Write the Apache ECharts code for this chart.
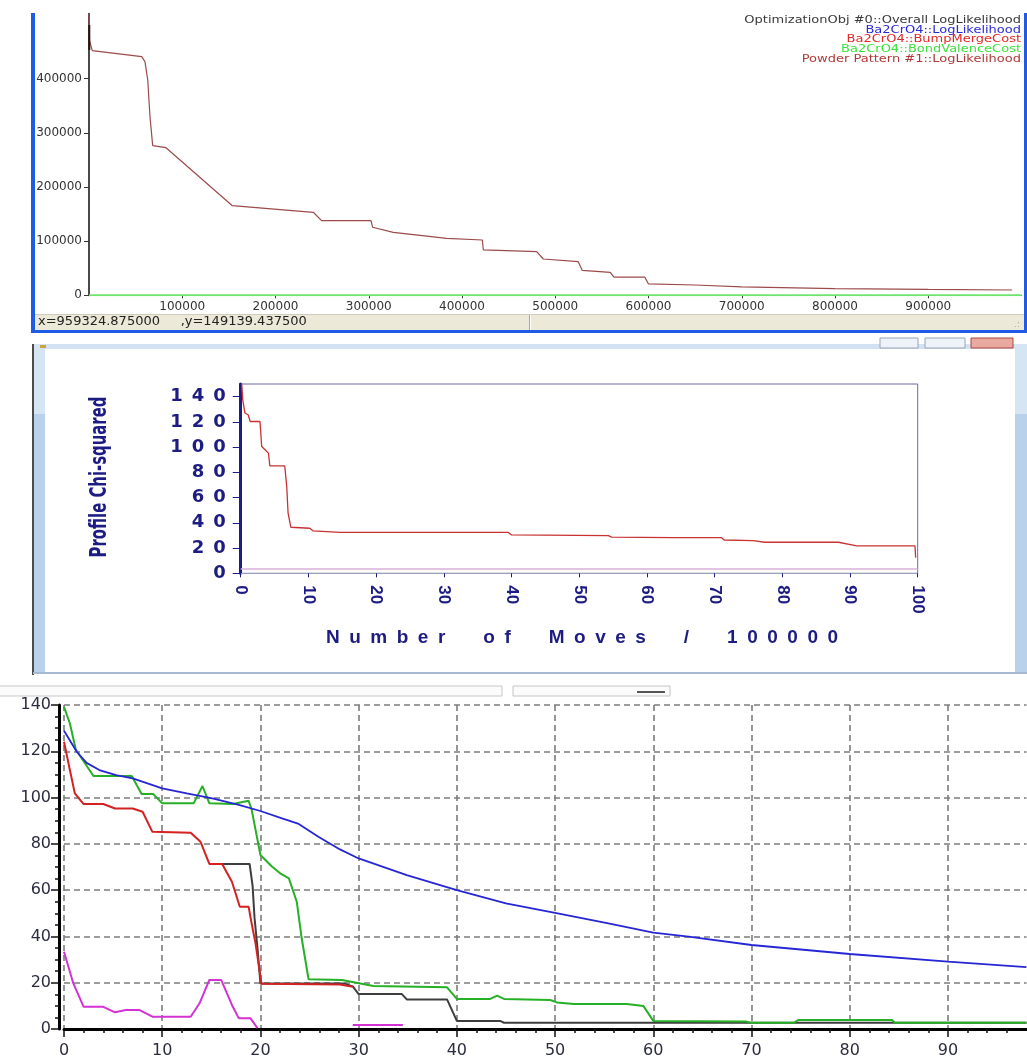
<!DOCTYPE html>
<html>
<head>
<meta charset="utf-8">
<title>Ba2CrO4 optimisation runs</title>
<script src="https://cdn.jsdelivr.net/npm/echarts@6/dist/echarts.min.js"></script>
<style>
  html, body { margin: 0; padding: 0; background: #fff; }
  #chart { width: 1027px; height: 1059px; }
</style>
</head>
<body>
<div id="chart"></div>
<script>
// ---- panel 1 : overall log likelihood vs moves ----
const topXTicks = [100000, 200000, 300000, 400000, 500000, 600000, 700000, 800000, 900000];
const topYTicks = [0, 100000, 200000, 300000, 400000];
const legendNames = ['OptimizationObj #0::Overall LogLikelihood', 'Ba2CrO4::LogLikelihood',
  'Ba2CrO4::BumpMergeCost', 'Ba2CrO4::BondValenceCost', 'Powder Pattern #1::LogLikelihood'];
const legendColors = ['#3a3a3a', '#2a2ad8', '#e02a2a', '#3ee03e', '#b03a3a'];
const powderPattern = [[0, 519000], [600, 470000], [3500, 451700], [56500, 440600], [60000, 431400],
  [63000, 397600], [65400, 329800], [68300, 276300], [82600, 272600], [153700, 165500],
  [240500, 153300], [249500, 137800], [302400, 137800], [304200, 125600], [326300, 116300],
  [383600, 105200], [421800, 102100], [422900, 83700], [480100, 80500], [487200, 67000],
  [524700, 62100], [529000, 46000], [559000, 42500], [563000, 33600], [596000, 33600],
  [600000, 21000], [650000, 19000], [700000, 15500], [800000, 12500], [900000, 10800], [990000, 9800]];
const overallStart = [[300, 499000], [300, 453000]];
const bondValenceTop = [[0, 0], [1000000, 0]];

// ---- panel 2 : profile chi-squared ----
const midYTicks = [0, 20, 40, 60, 80, 100, 120, 140];
const chiSquared = [[0.15, 150], [0.3, 137.5], [0.63, 127], [1.1, 125.6], [1.4, 120.3], [2.85, 120.3],
  [3.1, 100.5], [3.6, 97.9], [4.1, 95.2], [4.3, 85.2], [6.5, 85.2], [6.8, 68.7], [7.0, 47.6],
  [7.4, 36.5], [10.2, 35.7], [10.7, 33.6], [14.7, 32.5], [39.5, 32.5], [40.0, 30.4], [54.3, 29.8],
  [54.8, 28.6], [63.9, 28.3], [71.0, 28.3], [71.4, 26.4], [75.7, 25.9], [77.4, 24.6], [88.3, 24.6],
  [88.5, 23.3], [91.0, 21.7], [99.6, 21.7], [99.7, 12.4]];
const chiBaseline = [[0, 3.4], [100, 3.4]];

// ---- panel 3 : cost terms ----
const botXTicks = [0, 10, 20, 30, 40, 50, 60, 70, 80, 90];
const blueCurve = [[0, 128.9], [1.3, 119.8], [2.3, 115], [3.6, 111.9], [5.3, 109.7], [7.0, 108.3],
  [10, 104], [12.5, 101.8], [15.1, 99.7], [17.8, 96.8], [20, 94.2], [22.2, 91], [23.9, 88.6],
  [25.9, 83.1], [28.1, 77.6], [30, 73.7], [34.9, 66.5], [40, 60], [45, 54.3], [50, 50.2],
  [55.3, 45.7], [60, 41.6], [63.6, 39.9], [70, 36.3], [80, 32.4], [90, 29.1], [98, 26.7]];
const greenCurve = [[0, 139.2], [0.6, 132], [1.2, 120.8], [3.0, 109.3], [6.9, 109.3], [7.9, 101.5],
  [9.1, 101.5], [10, 97.5], [13.2, 97.5], [14.1, 105], [14.8, 97.5], [17.2, 97.2], [18.8, 98.6],
  [19.1, 94.9], [20, 75.2], [21.2, 70.1], [22.1, 67], [22.9, 65.1], [23.7, 55], [24.2, 39.2],
  [24.9, 21.5], [28.3, 21.2], [31.5, 18.6], [39, 18], [40, 13], [43.4, 13], [44.1, 14.4],
  [44.8, 13], [49.5, 12.5], [50.2, 11.5], [51.9, 10.8], [57.3, 10.8], [59, 9.9], [60, 3.5],
  [69.5, 3.2], [69.9, 2.7], [74.3, 2.7], [74.8, 3.9], [84.3, 3.9], [84.6, 2.7], [98, 2.7]];
const redCurve = [[0, 124.1], [0.6, 111.9], [1.1, 101.8], [2.0, 97.2], [4.0, 97.2], [5.2, 95.3],
  [7.0, 95.3], [8.0, 93.9], [9.0, 85.2], [12.9, 84.8], [13.9, 80.9], [14.8, 71.3], [16.1, 71.3],
  [17.1, 63.6], [17.9, 52.8], [18.8, 52.8], [19.1, 45.7], [19.5, 37], [20, 22.6], [20.1, 19.5],
  [28.1, 19.2], [29.4, 18.3]];
const blackCurve = [[14.8, 71.3], [18.9, 71.3], [19.2, 62], [19.4, 48], [19.7, 35], [20, 19.7],
  [28.5, 19.7], [29.4, 18.4], [30, 15.1], [34.4, 15.1], [34.9, 12.8], [39, 12.8], [40, 3.5],
  [44.4, 3.5], [44.8, 2.7], [98, 2.7]];
const magentaCurve = [[0, 33.4], [0.95, 19.7], [2.0, 9.6], [4.0, 9.6], [5.2, 7.2], [6.3, 8.2],
  [7.7, 8.2], [9.0, 5.3], [12.9, 5.3], [13.8, 11.1], [14.8, 21.2], [16.0, 21.2], [17.1, 10.4],
  [17.8, 4.6], [19.0, 4.6], [19.7, 0.3], [25, '-'], [29.4, 1.7], [34.5, 1.7]];

function spaced(s, gap) { return String(s).split('').join(gap); }

const chart = echarts.init(document.getElementById('chart'));

const navy = '#1c1c82';
const grey = '#7c7c7c';
const smallFont = '"DejaVu Sans", Verdana, sans-serif';

const chrome = [
  // panel 1 window frame + status bar
  { type: 'rect', shape: { x: 31, y: 13, width: 4, height: 320 }, style: { fill: '#1f5ce6' } },
  { type: 'rect', shape: { x: 1024, y: 13, width: 3, height: 320 }, style: { fill: '#1f5ce6' } },
  { type: 'rect', shape: { x: 31, y: 330, width: 996, height: 3 }, style: { fill: '#1f5ce6' } },
  { type: 'rect', shape: { x: 35, y: 314, width: 989, height: 16 }, style: { fill: '#ece9d8' } },
  { type: 'line', shape: { x1: 35, y1: 314.5, x2: 1024, y2: 314.5 }, style: { stroke: '#cfcbbd' } },
  { type: 'line', shape: { x1: 529.5, y1: 315, x2: 529.5, y2: 330 }, style: { stroke: '#aca899' } },
  { type: 'line', shape: { x1: 530.5, y1: 315, x2: 530.5, y2: 330 }, style: { stroke: '#ffffff' } },
  { type: 'text', x: 38, y: 322, style: { text: 'x=959324.875000     ,y=149139.437500',
      font: '13px ' + smallFont, fill: '#222', align: 'left', verticalAlign: 'middle' } },
  { type: 'text', x: 1020, y: 325, style: { text: '.:', font: '9px ' + smallFont, fill: '#aaa',
      align: 'right', verticalAlign: 'middle' } },

  // panel 2 window frame
  { type: 'rect', shape: { x: 34, y: 344, width: 981, height: 5 }, style: { fill: '#d2e2f4' } },
  { type: 'rect', shape: { x: 34, y: 344, width: 11, height: 330 }, style: { fill: '#b9d1ea' } },
  { type: 'rect', shape: { x: 34, y: 344, width: 11, height: 70 }, style: { fill: '#d6e5f4' } },
  { type: 'rect', shape: { x: 1015, y: 344, width: 12, height: 330 }, style: { fill: '#b9d1ea' } },
  { type: 'rect', shape: { x: 1015, y: 344, width: 12, height: 70 }, style: { fill: '#d6e5f4' } },
  { type: 'line', shape: { x1: 33, y1: 344, x2: 33, y2: 675 }, style: { stroke: '#111', lineWidth: 1.5 } },
  { type: 'line', shape: { x1: 33, y1: 673, x2: 1027, y2: 673 }, style: { stroke: '#a6bad2', lineWidth: 2 } },
  { type: 'rect', shape: { x: 880, y: 338, width: 38, height: 10 }, style: { fill: '#eef3f9', stroke: '#98a4b4' } },
  { type: 'rect', shape: { x: 925, y: 338, width: 40, height: 10 }, style: { fill: '#eef3f9', stroke: '#98a4b4' } },
  { type: 'rect', shape: { x: 971, y: 338, width: 42, height: 10 }, style: { fill: '#e9a9a0', stroke: '#b0463c' } },
  { type: 'rect', shape: { x: 40, y: 345, width: 6, height: 3 }, style: { fill: '#c8a43c' } },

  // panel 3 toolbar strip
  { type: 'rect', shape: { x: -1, y: 686, width: 503, height: 10 }, style: { fill: '#fbfbfb', stroke: '#c8c8c8' } },
  { type: 'rect', shape: { x: 513, y: 686, width: 157, height: 10 }, style: { fill: '#fbfbfb', stroke: '#c4c4c4' } },
  { type: 'line', shape: { x1: 637, y1: 692, x2: 665, y2: 692 }, style: { stroke: '#555', lineWidth: 2 } },

  // panel 2 axis titles
  { type: 'text', x: 100, y: 477, rotation: Math.PI / 2, scaleX: 0.87, scaleY: 1.2,
    style: { text: 'Profile Chi-squared', font: 'bold 19px "Liberation Sans Narrow", "DejaVu Sans Condensed", sans-serif',
      fill: navy, align: 'center', verticalAlign: 'middle' } },
  { type: 'text', x: 582, y: 638,
    style: { text: 'Number of Moves / 100000'.split(' ').map(w => spaced(w, '\u2002')).join('\u2003\u2003'),
      font: 'bold 19px "Liberation Sans", Arial, sans-serif', fill: navy, align: 'center', verticalAlign: 'middle' } }
];

// legend of panel 1, right-aligned coloured labels (screenshot is stretched sideways)
legendNames.forEach((name, i) => {
  chrome.push({ type: 'text', x: 1021, y: 20.5 + i * 9.7, scaleX: 1.3,
    style: { text: name, font: '10px ' + smallFont, fill: legendColors[i], align: 'right', verticalAlign: 'middle' } });
});

const option = {
  animation: false,
  backgroundColor: '#ffffff',
  grid: [
    { left: 89, top: 13.7, width: 932.5, height: 281.6 },
    { left: 240.7, top: 384, width: 677, height: 189.3, show: true, borderColor: '#6a6aa2', borderWidth: 1 },
    { left: 64, top: 705, width: 962.5, height: 324 }
  ],
  xAxis: [
    { gridIndex: 0, type: 'value', min: 0, max: 1000000,
      axisLine: { lineStyle: { color: '#777', width: 1 } },
      axisTick: { customValues: topXTicks, length: 3, lineStyle: { color: '#333' } },
      axisLabel: { customValues: topXTicks, margin: 6, fontSize: 12, fontFamily: smallFont, color: '#333',
        formatter: v => String(v) },
      splitLine: { show: false } },
    { gridIndex: 1, type: 'value', min: 0, max: 100, interval: 10,
      axisLine: { lineStyle: { color: '#9c9cc4', width: 1 } },
      axisTick: { length: 4, lineStyle: { color: navy } },
      axisLabel: { rotate: -90, margin: 12, fontSize: 17, fontWeight: 'bold',
        fontFamily: '"Liberation Sans", Arial, sans-serif', color: navy },
      splitLine: { show: false } },
    { gridIndex: 2, type: 'value', min: 0, max: 98, interval: 10,
      axisLine: { onZero: false, lineStyle: { color: '#000', width: 3 } },
      axisTick: { customValues: botXTicks, length: 8, lineStyle: { color: '#111', width: 1.5 } },
      minorTick: { show: true, splitNumber: 5, length: 4, lineStyle: { color: '#111', width: 1.5 } },
      axisLabel: { customValues: botXTicks, margin: 14, fontSize: 16, fontFamily: smallFont, color: '#2c2c40' },
      splitLine: { show: true, lineStyle: { color: grey, width: 1.6, type: [6, 4] } } }
  ],
  yAxis: [
    { gridIndex: 0, type: 'value', min: 0, max: 520000,
      axisLine: { show: true, lineStyle: { color: '#4a4a4a', width: 2 } },
      axisTick: { show: true, customValues: topYTicks, length: 5, lineStyle: { color: '#333' } },
      axisLabel: { customValues: topYTicks, margin: 7, fontSize: 12, fontFamily: smallFont, color: '#333',
        formatter: v => String(v) },
      splitLine: { show: false } },
    { gridIndex: 1, type: 'value', min: 0, max: 150,
      axisLine: { show: true, lineStyle: { color: navy, width: 3 } },
      axisTick: { show: true, customValues: midYTicks, length: 8, lineStyle: { color: navy } },
      axisLabel: { customValues: midYTicks, margin: 15, fontSize: 18, fontWeight: 'bold',
        fontFamily: smallFont, color: navy,
        formatter: v => spaced(v, '\u2002') },
      splitLine: { show: false } },
    { gridIndex: 2, type: 'value', min: 0, max: 140, interval: 20, offset: 5,
      axisLine: { show: true, onZero: false, lineStyle: { color: '#000', width: 3 } },
      axisTick: { show: true, length: 8, lineStyle: { color: '#111', width: 1.5 } },
      minorTick: { show: true, splitNumber: 4, length: 4, lineStyle: { color: '#111', width: 1.5 } },
      axisLabel: { margin: 8, fontSize: 16, fontFamily: smallFont, color: '#2c2c40' },
      splitLine: { show: true, lineStyle: { color: grey, width: 1.6, type: [6, 4] } } }
  ],
  graphic: { elements: chrome },
  series: [
    { name: legendNames[3], type: 'line', xAxisIndex: 0, yAxisIndex: 0, data: bondValenceTop,
      symbol: 'none', lineStyle: { color: '#6fe46f', width: 2 } },
    { name: legendNames[4], type: 'line', xAxisIndex: 0, yAxisIndex: 0, data: powderPattern,
      symbol: 'none', lineStyle: { color: '#9c4a4a', width: 1.2 } },
    { name: legendNames[0], type: 'line', xAxisIndex: 0, yAxisIndex: 0, data: overallStart,
      symbol: 'none', lineStyle: { color: '#2a1010', width: 2 } },

    { name: 'baseline', type: 'line', xAxisIndex: 1, yAxisIndex: 1, data: chiBaseline,
      symbol: 'none', lineStyle: { color: '#d8b0d8', width: 1.5 } },
    { name: 'Profile Chi-squared', type: 'line', xAxisIndex: 1, yAxisIndex: 1, data: chiSquared,
      symbol: 'none', lineStyle: { color: '#c83232', width: 1.3 } },

    { name: 'black', type: 'line', xAxisIndex: 2, yAxisIndex: 2, data: blackCurve,
      symbol: 'none', lineStyle: { color: '#3e3e3e', width: 2 } },
    { name: 'red', type: 'line', xAxisIndex: 2, yAxisIndex: 2, data: redCurve,
      symbol: 'none', lineStyle: { color: '#d42222', width: 2 } },
    { name: 'magenta', type: 'line', xAxisIndex: 2, yAxisIndex: 2, data: magentaCurve,
      symbol: 'none', connectNulls: false, lineStyle: { color: '#d432d4', width: 2 } },
    { name: 'green', type: 'line', xAxisIndex: 2, yAxisIndex: 2, data: greenCurve,
      symbol: 'none', lineStyle: { color: '#26b026', width: 2 } },
    { name: 'blue', type: 'line', xAxisIndex: 2, yAxisIndex: 2, data: blueCurve,
      symbol: 'none', lineStyle: { color: '#2626d4', width: 1.8 } }
  ]
};

chart.setOption(option);
</script>
</body>
</html>
